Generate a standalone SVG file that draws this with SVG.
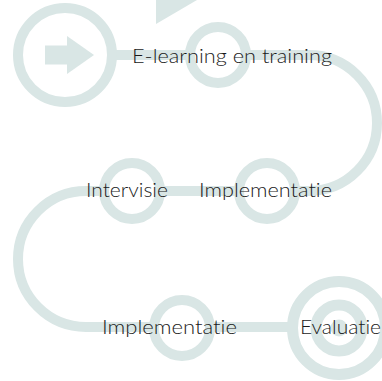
<svg xmlns="http://www.w3.org/2000/svg" width="382" height="381" viewBox="0 0 382 381">
<style>
.ring{fill:#ffffff;stroke:#d9e6e5;stroke-width:10}
.shape{fill:#d9e6e5}
.conn{fill:none;stroke:#d9e6e5;stroke-width:10}
.lbl{font-family:Lato,"Open Sans","Liberation Sans",sans-serif;font-size:20px;font-weight:300;fill:#1a1a1a;font-variant-ligatures:none}
</style>
<rect width="382" height="381" fill="#ffffff"/>
<polygon class="shape" points="156,0 197,0 156,24"/>
<g id="connectors">
<path class="conn" d="M113,55 H309 A68,68 0 0 1 309,191 H86 A68,68 0 0 0 86,327 H339"/>
</g>
<g id="start">
<circle class="ring" cx="65" cy="55" r="47"/>
<rect class="shape" x="45" y="45.5" width="23" height="19"/>
<polygon class="shape" points="67,36 94,55 67,74"/>
</g>
<g id="node-elearning">
<circle class="ring" cx="218" cy="55" r="28"/>
<text class="lbl" x="132" y="63" textLength="200" lengthAdjust="spacingAndGlyphs">E-learning en training</text>
</g>
<g id="node-implementatie1">
<circle class="ring" cx="267" cy="191" r="28"/>
<text class="lbl" x="199" y="197" textLength="133" lengthAdjust="spacingAndGlyphs">Implementatie</text>
</g>
<g id="node-intervisie">
<circle class="ring" cx="132" cy="191" r="28"/>
<text class="lbl" x="86" y="197" textLength="82" lengthAdjust="spacingAndGlyphs">Intervisie</text>
</g>
<g id="node-implementatie2">
<circle class="ring" cx="182" cy="328" r="28"/>
<text class="lbl" x="102" y="334" textLength="135" lengthAdjust="spacingAndGlyphs">Implementatie</text>
</g>
<g id="node-evaluatie">
<circle class="ring" cx="339" cy="328" r="46.5" style="stroke-width:11"/>
<circle class="ring" cx="339" cy="328" r="23" style="stroke-width:11"/>
<circle class="shape" cx="339" cy="328" r="8.5"/>
<text class="lbl" x="300" y="334" textLength="81" lengthAdjust="spacingAndGlyphs">Evaluatie</text>
</g>
</svg>
